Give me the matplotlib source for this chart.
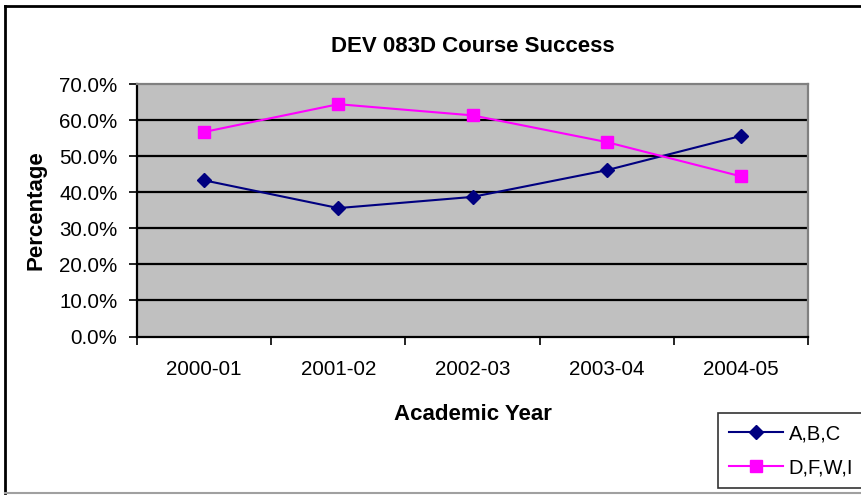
import matplotlib
matplotlib.use("Agg")
import matplotlib.pyplot as plt
from matplotlib.ticker import FuncFormatter
from matplotlib.lines import Line2D

plt.rcParams['font.family'] = ['Liberation Sans', 'DejaVu Sans']

# Data
years = ['2000-01', '2001-02', '2002-03', '2003-04', '2004-05']
abc = [0.433, 0.356, 0.387, 0.461, 0.556]
dfwi = [0.567, 0.644, 0.613, 0.539, 0.444]
y_ticks = [0.0, 0.1, 0.2, 0.3, 0.4, 0.5, 0.6, 0.7]

fig = plt.figure(figsize=(8.61, 4.95), dpi=100)
ax = fig.add_axes([137/861, 1 - 336.5/495, 671/861, 252.5/495])
ax.set_facecolor('#C0C0C0')

x = list(range(len(years)))

# gridlines (black, below the lines)
for v in y_ticks[1:-1]:
    ax.axhline(v, color='black', lw=1.6, zorder=1)

l1, = ax.plot(x, abc, color='#000080', lw=1.5, marker='D', markersize=7,
              markerfacecolor='#000080', markeredgecolor='#000080', label='A,B,C', zorder=3)
l2, = ax.plot(x, dfwi, color='#FF00FF', lw=1.5, marker='s', markersize=8,
              markerfacecolor='#FF00FF', markeredgecolor='#FF00FF', label='D,F,W,I', zorder=3)

ax.set_xlim(-0.5, len(years) - 0.5)
ax.set_ylim(0, 0.7)

# x ticks at category boundaries, labels in the middle
ax.set_xticks([i - 0.5 for i in range(len(years) + 1)])
ax.set_xticklabels([])
ax.set_xticks(x, minor=True)
ax.set_xticklabels(years, minor=True, fontsize=14.8)
ax.tick_params(axis='x', which='major', direction='out', length=6, width=1.2, color='black')
ax.tick_params(axis='x', which='minor', length=0, pad=17)

ax.set_yticks(y_ticks)
ax.yaxis.set_major_formatter(FuncFormatter(lambda v, p: f"{v*100:.1f}%"))
ax.tick_params(axis='y', direction='out', length=6, width=1.2, labelsize=14.8, pad=8)

for s in ['left', 'bottom']:
    ax.spines[s].set_color('black')
    ax.spines[s].set_linewidth(1.6)
for s in ['top', 'right']:
    ax.spines[s].set_color('#808080')
    ax.spines[s].set_linewidth(1.6)

ax.set_xlabel('Academic Year', fontsize=16, fontweight='bold', labelpad=18)
ax.set_ylabel('Percentage', fontsize=16, fontweight='bold', labelpad=9)
fig.text(473/861, 1 - 46/495, 'DEV 083D Course Success', fontsize=16,
         fontweight='bold', ha='center', va='center')

# legend
leg = fig.legend(handles=[l1, l2], loc='upper left',
                 bbox_to_anchor=(718/861, 1 - 413/495), fontsize=14.5,
                 frameon=True, fancybox=False, edgecolor='black',
                 borderaxespad=0, handlelength=2.7, handletextpad=0.25,
                 borderpad=0.55, labelspacing=0.75)
leg.get_frame().set_linewidth(1.2)

# outer chart border
fig.add_artist(Line2D([5/861, 1], [1 - 6/495, 1 - 6/495], color='black', lw=2,
                      transform=fig.transFigure))
fig.add_artist(Line2D([5/861, 5/861], [1 - 6/495, 1 - 493/495], color='black', lw=2,
                      transform=fig.transFigure))
fig.add_artist(Line2D([5/861, 1], [1 - 493/495, 1 - 493/495], color='#A0A0A0', lw=1.5,
                      transform=fig.transFigure))

fig.savefig('out.png', dpi=100)
